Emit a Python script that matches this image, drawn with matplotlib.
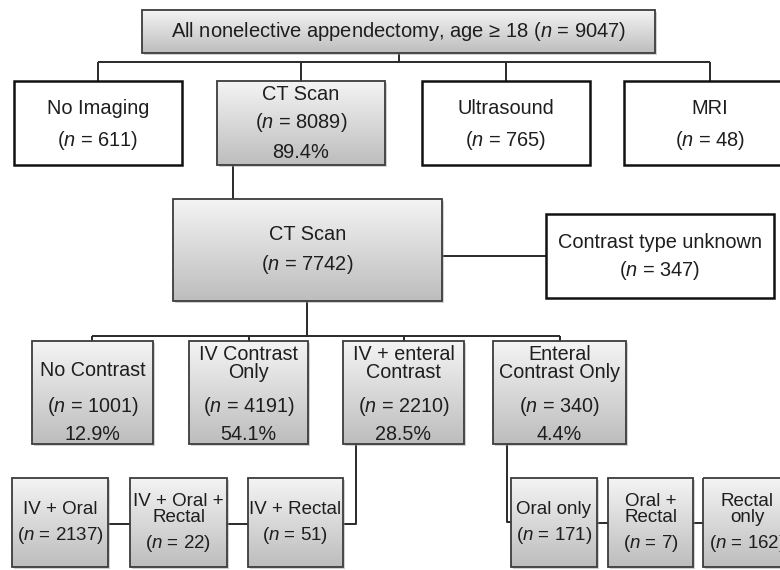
import numpy as np
import matplotlib
matplotlib.use("Agg")
import matplotlib.pyplot as plt
from matplotlib.patches import Rectangle
from matplotlib.colors import LinearSegmentedColormap

plt.rcParams['font.family'] = ['Liberation Sans', 'DejaVu Sans']
plt.rcParams['mathtext.fontset'] = 'custom'
plt.rcParams['mathtext.it'] = 'Liberation Sans:italic'
plt.rcParams['mathtext.rm'] = 'Liberation Sans'

# ---------------- data ----------------
top_label = "All nonelective appendectomy, age \u2265 18"
top_n = 9047

imaging_labels = ["No Imaging", "CT Scan", "Ultrasound", "MRI"]
imaging_n = [611, 8089, 765, 48]
imaging_pct = [None, "89.4%", None, None]

ct_label = "CT Scan"
ct_n = 7742
unknown_label = "Contrast type unknown"
unknown_n = 347

contrast_labels = ["No Contrast", "IV Contrast\nOnly", "IV + enteral\nContrast", "Enteral\nContrast Only"]
contrast_n = [1001, 4191, 2210, 340]
contrast_pct = ["12.9%", "54.1%", "28.5%", "4.4%"]

iv_enteral_labels = ["IV + Oral", "IV + Oral +\nRectal", "IV + Rectal"]
iv_enteral_n = [2137, 22, 51]

enteral_labels = ["Oral only", "Oral +\nRectal", "Rectal\nonly"]
enteral_n = [171, 7, 162]

# ---------------- drawing ----------------
fig = plt.figure(figsize=(7.8, 5.7), dpi=100)
ax = fig.add_axes([0, 0, 1, 1])
ax.set_xlim(0, 780)
ax.set_ylim(570, 0)
ax.axis('off')

grad_cmap = LinearSegmentedColormap.from_list('g', ['#f4f4f4', '#bdbdbd'])
grad = np.linspace(0, 1, 256).reshape(-1, 1)
TEXT_COLOR = '#1e1e1e'
LINE_COLOR = '#2a2a2a'


def ntext(n):
    return "($n$ = %d)" % n


def box(x0, x1, y0, y1, lines, ys, gray=True, size=14.2):
    if gray:
        ax.add_patch(Rectangle((x0 + 1.5, y0 + 2), x1 - x0, y1 - y0,
                               facecolor='#9a9a9a', edgecolor='none', alpha=0.45, zorder=1.5))
        ax.imshow(grad, cmap=grad_cmap, extent=(x0, x1, y1, y0), origin='upper',
                  aspect='auto', interpolation='bilinear', zorder=2)
        ax.add_patch(Rectangle((x0, y0), x1 - x0, y1 - y0, facecolor='none',
                               edgecolor='#3c3c3c', lw=1.3, zorder=3))
    else:
        ax.add_patch(Rectangle((x0, y0), x1 - x0, y1 - y0, facecolor='white',
                               edgecolor='#111111', lw=1.8, zorder=3))
    cx = (x0 + x1) / 2
    for t, y in zip(lines, ys):
        ax.text(cx, y, t, ha='center', va='center', fontsize=size,
                color=TEXT_COLOR, zorder=4)


def line(xs, ys):
    ax.plot(xs, ys, color=LINE_COLOR, lw=1.4, zorder=1, solid_capstyle='butt')


# connectors
line([398.5, 398.5], [53, 62])
line([98, 710], [62, 62])
for x in [98, 301, 506, 710]:
    line([x, x], [62, 81])
line([233, 233], [165, 199])
line([442, 546], [256, 256])
line([307, 307], [301, 336])
line([92, 560], [336, 336])
for x in [92, 249, 404, 560]:
    line([x, x], [336, 341])
line([356, 356, 343], [444, 524, 524])
line([108, 130], [524, 524])
line([227, 248], [524, 524])
line([507, 507, 511], [444, 522, 522])
line([597, 608], [523, 523])
line([693, 703], [523, 523])

# top box
box(142, 655, 10, 53, [top_label + " " + ntext(top_n)], [31.5], gray=True, size=14.5)

# imaging row
row2_x = [(14, 182), (217, 385), (422, 590), (624, 796)]
for (x0, x1), lab, n, p in zip(row2_x, imaging_labels, imaging_n, imaging_pct):
    if p is None:
        box(x0, x1, 81, 165, [lab, ntext(n)], [109, 140], gray=False, size=14.4)
    else:
        box(x0, x1, 81, 165, [lab, ntext(n), p], [94, 123, 152], gray=True, size=14.4)

# CT scan and unknown
box(173, 442, 199, 301, [ct_label, ntext(ct_n)], [235, 265], gray=True, size=14.4)
box(546, 774, 214, 298, [unknown_label, ntext(unknown_n)], [242, 271], gray=False, size=14.4)

# contrast row
row4_x = [(32, 153), (189, 308), (343, 464), (493, 626)]
for (x0, x1), lab, n, p in zip(row4_x, contrast_labels, contrast_n, contrast_pct):
    parts = lab.split("\n")
    if len(parts) == 1:
        ys = [370, 407, 434]
    else:
        ys = [355, 373, 407, 434]
    box(x0, x1, 341, 444, parts + [ntext(n), p], ys, gray=True, size=14.2)

# bottom row
bot_left_x = [(12, 108), (130, 227), (248, 343)]
bot_right_x = [(511, 597), (608, 693), (703, 792)]
for (x0, x1), lab, n in zip(bot_left_x + bot_right_x, iv_enteral_labels + enteral_labels,
                            iv_enteral_n + enteral_n):
    parts = lab.split("\n")
    if len(parts) == 1:
        ys = [510, 535]
    else:
        ys = [501, 518, 544]
    box(x0, x1, 478, 567, parts + [ntext(n)], ys, gray=True, size=13.5)

ax.set_xlim(0, 780)
ax.set_ylim(570, 0)
fig.savefig("out.png", dpi=100)
